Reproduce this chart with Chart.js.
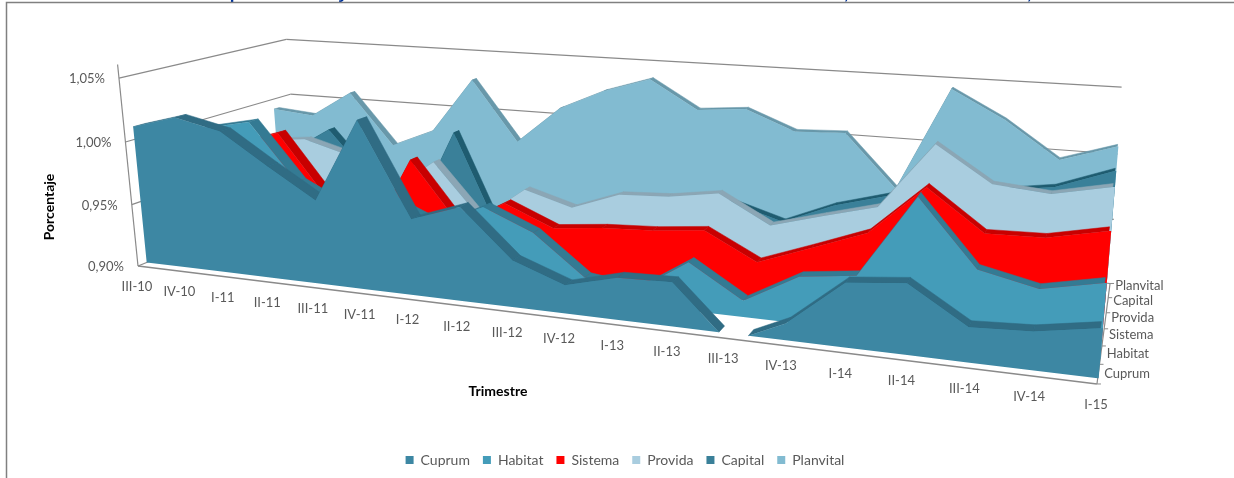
<!DOCTYPE html>
<html>
<head>
<meta charset="utf-8">
<style>
  html, body { margin: 0; padding: 0; background: #fff; }
  canvas { display: block; }
</style>
<script src="https://cdn.jsdelivr.net/npm/chart.js@4/dist/chart.umd.js"></script>
</head>
<body>
<canvas id="chart" width="1234" height="478"></canvas>
<script>
// Values are read off the picture; points hidden behind a nearer series are estimates.
const categories = ["III-10", "IV-10", "I-11", "II-11", "III-11", "IV-11", "I-12", "II-12", "III-12", "IV-12",
  "I-13", "II-13", "III-13", "IV-13", "I-14", "II-14", "III-14", "IV-14", "I-15"];
const seriesNames = ["Cuprum", "Habitat", "Sistema", "Provida", "Capital", "Planvital"];
const yTicks = [0.90, 0.95, 1.00, 1.05];

const cuprum = [1.010, 1.020, 1.012, 0.988, 0.965, 1.029, 0.958, 0.971, 0.935, 0.921, 0.931, 0.932, 0.8935, 0.912, 0.945, 0.949, 0.924, 0.926, 0.933];
const habitat = [0.990, 1.005, 1.0125, 0.9675, 0.949, 0.960, 0.944, 0.962, 0.946, 0.916, 0.911, 0.936, 0.912, 0.934, 0.939, 0.998, 0.952, 0.943, 0.9516];
const sistema = [0.980, 0.985, 0.9965, 0.9485, 0.919, 0.9836, 0.9355, 0.956, 0.940, 0.944, 0.946, 0.950, 0.930, 0.9446, 0.9597, 0.996, 0.967, 0.968, 0.9765];
const provida = [0.980, 0.980, 0.984, 0.974, 0.9475, 0.974, 0.931, 0.958, 0.947, 0.961, 0.963, 0.969, 0.948, 0.959, 0.9695, 1.0187, 0.993, 0.9895, 0.998];
const capital = [0.960, 0.963, 0.985, 0.944, 0.919, 0.991, 0.905, 0.930, 0.930, 0.940, 0.945, 0.953, 0.9415, 0.958, 0.969, 0.992, 0.980, 0.986, 1.001];
const planvital = [0.991, 0.988, 1.0105, 0.967, 0.9825, 1.029, 0.979, 1.010, 1.027, 1.039, 1.0167, 1.020, 1.005, 1.0067, 0.966, 1.0457, 1.025, 0.998, 1.011];
const seriesValues = [cuprum, habitat, sistema, provida, capital, planvital];

const faceColors = ["#3d87a3", "#449cb9", "#ff0000", "#a9cddf", "#3a8099", "#82bbd1"];
const ribbonColors = ["#306c84", "#347a93", "#c80000", "#8ba6b5", "#1f5c70", "#6898aa"];

const FONT = "Lato, 'Open Sans', sans-serif";
const TEXT = "#595959";
const GRID = "#8a8a8a";
const AXIS_MIN = 0.90;
const AXIS_MAX = 1.05;

// Excel's 3-D view as a projective map: u along the quarters, d into the depth, v up the value axis.
function project(u, d, v) {
  const w = 1 - 0.214 * u + 0.17 * d - 0.03 * v;
  return {
    x: (138 + 724.2 * u + 199 * d + 12 * d * (1 - u) - 22.6 * v) / w,
    y: (266 + 35.8 * u - 30.8 * d - 190.3 * v) / w,
  };
}
const toU = (i) => i / (categories.length - 1);
const toV = (pct) => (pct - AXIS_MIN) / (AXIS_MAX - AXIS_MIN);
const frontDepth = (k) => (k + 0.28) / seriesNames.length;
// far ribbons read thinner in the reference
const backDepth = (k) => (k + 0.65 - 0.03 * k) / seriesNames.length;

// Cut a series into runs above the axis minimum; values below it are not drawn, as in Excel.
function runsAboveFloor(values) {
  const runs = [];
  let run = [];
  values.forEach((pct, i) => {
    const v = toV(pct);
    if (i > 0) {
      const prev = toV(values[i - 1]);
      if ((prev < 0) !== (v < 0)) {
        const cross = { u: toU(i - 1 + prev / (prev - v)), v: 0 };
        run.push(cross);
        if (v < 0) { runs.push(run); run = []; }
      }
    }
    if (v >= 0) run.push({ u: toU(i), v });
  });
  if (run.length) runs.push(run);
  return runs;
}

function tracePolygon(ctx, chart, pts) {
  const { x, y } = chart.scales;
  ctx.beginPath();
  pts.forEach((p, i) => {
    const px = x.getPixelForValue(p.x);
    const py = y.getPixelForValue(p.y);
    if (i === 0) ctx.moveTo(px, py); else ctx.lineTo(px, py);
  });
  ctx.closePath();
}

function strokeLine(ctx, chart, a, b, color, width) {
  const { x, y } = chart.scales;
  ctx.strokeStyle = color;
  ctx.lineWidth = width;
  ctx.beginPath();
  ctx.moveTo(x.getPixelForValue(a.x), y.getPixelForValue(a.y));
  ctx.lineTo(x.getPixelForValue(b.x), y.getPixelForValue(b.y));
  ctx.stroke();
}

// The series end on one clean right-hand edge: from Cuprum's foot to Planvital's last value.
function clipRightEdge(ctx, chart) {
  const last = seriesNames.length - 1;
  const a = project(1, frontDepth(0), 0);
  const b = project(1, frontDepth(last), toV(seriesValues[last][categories.length - 1]));
  const slope = (b.x - a.x) / (b.y - a.y);
  const edgeAt = (py) => a.x + (py - a.y) * slope + 1;
  tracePolygon(ctx, chart, [{ x: 0, y: 0 }, { x: edgeAt(0), y: 0 }, { x: edgeAt(440), y: 440 }, { x: 0, y: 440 }]);
  ctx.clip();
}

// Each dataset is drawn as a top ribbon plus a front face, back to front by dataset order.
const areaFaces = {
  id: "areaFaces",
  beforeDatasetDraw(chart, args) {
    const k = args.index;
    const ctx = chart.ctx;
    const df = frontDepth(k);
    const db = backDepth(k);
    ctx.save();
    clipRightEdge(ctx, chart);
    for (const run of runsAboveFloor(seriesValues[k])) {
      ctx.fillStyle = ribbonColors[k];
      ctx.strokeStyle = ribbonColors[k];
      ctx.lineWidth = 0.5;
      for (let i = 0; i < run.length - 1; i++) {
        const a = run[i];
        const b = run[i + 1];
        tracePolygon(ctx, chart, [project(a.u, df, a.v), project(a.u, db, a.v), project(b.u, db, b.v), project(b.u, df, b.v)]);
        ctx.fill();
        ctx.stroke();
      }
      const face = run.map((p) => project(p.u, df, p.v));
      // run the face past the clip edge, so farther series do not peek out beside it
      const end = run[run.length - 1];
      const topEnd = project(end.u, df, end.v);
      const footEnd = project(end.u, df, 0);
      if (end.u === 1) face.push({ x: topEnd.x + 6, y: topEnd.y }, { x: footEnd.x + 6, y: footEnd.y });
      for (const p of run.slice().reverse()) face.push(project(p.u, df, 0));
      ctx.fillStyle = faceColors[k];
      tracePolygon(ctx, chart, face);
      ctx.fill();
    }
    ctx.restore();
  },
};

// Walls, gridlines and the frame of the chart object go underneath the series.
const walls = {
  id: "walls",
  beforeDatasetsDraw(chart) {
    const ctx = chart.ctx;
    ctx.save();
    for (const tick of yTicks) {
      const v = toV(tick);
      strokeLine(ctx, chart, project(0, 0, v), project(0, 1, v), GRID, 1.2);
      strokeLine(ctx, chart, project(0, 1, v), project(1, 1, v), GRID, 1.2);
    }
    strokeLine(ctx, chart, project(0, 0, 0), project(0, 0, 1.07), GRID, 1.2);
    strokeLine(ctx, chart, project(0, 0, 0), project(1, 0, 0), GRID, 1.6);
    strokeLine(ctx, chart, project(1, 0, 0), project(1, 1, 0), GRID, 1.2);
    for (let k = 0; k <= seriesNames.length; k++) {
      const p = project(1, k / seriesNames.length, 0);
      strokeLine(ctx, chart, p, { x: p.x + 4, y: p.y }, GRID, 1);
    }
    ctx.restore();
  },
};

// Tick labels, axis titles, the frame and the title strip cut off by the top of the picture.
const labels = {
  id: "labels",
  afterDraw(chart) {
    const ctx = chart.ctx;
    const { x, y } = chart.scales;
    const at = (p) => ({ x: x.getPixelForValue(p.x), y: y.getPixelForValue(p.y) });
    ctx.save();
    ctx.fillStyle = "#003399";
    ctx.font = "bold 17px 'Liberation Sans', sans-serif";
    ctx.textBaseline = "alphabetic";
    ctx.textAlign = "center";
    ctx.fillText("p", 235, -1);
    ctx.fillText("y", 343, -1);
    ctx.fillText(",", 846, -1);
    ctx.fillText(",", 1029, -1);

    ctx.strokeStyle = "#808080";
    ctx.lineWidth = 1.5;
    ctx.beginPath();
    ctx.moveTo(1234, 2.5);
    ctx.lineTo(6.5, 2.5);
    ctx.lineTo(6.5, 478);
    ctx.stroke();

    ctx.fillStyle = TEXT;
    ctx.font = "13px " + FONT;
    ctx.textBaseline = "middle";
    ctx.textAlign = "center";
    categories.forEach((name, i) => {
      const p = at(project(toU(i), 0, 0));
      ctx.fillText(name, p.x - 1, p.y + 21);
    });
    ctx.textAlign = "right";
    for (const tick of yTicks) {
      const p = at(project(0, 0, toV(tick)));
      ctx.fillText(tick.toFixed(2).replace(".", ",") + "%", p.x - 14, p.y + 1);
    }
    ctx.textAlign = "left";
    seriesNames.forEach((name, k) => {
      const p = at(project(1, (k + 0.5) / seriesNames.length, 0));
      ctx.fillText(name, p.x + 6, p.y - k);
    });

    ctx.fillStyle = "#000";
    ctx.font = "bold 14px " + FONT;
    ctx.textAlign = "center";
    ctx.fillText("Trimestre", 498, 391);
    ctx.translate(49, 207);
    ctx.rotate(-Math.PI / 2);
    ctx.fillText("Porcentaje", 0, 0);
    ctx.restore();
  },
};

// Fixed legend band at the bottom, so the pixel-sized scales below stay predictable.
const legendBand = {
  id: "legendBand",
  beforeInit(chart) {
    const fit = chart.legend.fit;
    chart.legend.fit = function () {
      fit.call(this);
      this.height = 38;
    };
  },
  afterLayout(chart) {
    // the reference legend sits a little right of centre
    chart.legend.left += 8;
    chart.legend.right += 8;
  },
};

new Chart(document.getElementById("chart"), {
  type: "scatter",
  data: {
    datasets: seriesNames.map((name, k) => ({
      label: name,
      data: seriesValues[k].map((pct, i) => project(toU(i), frontDepth(k), toV(pct))),
      backgroundColor: faceColors[k],
      borderColor: faceColors[k],
      borderWidth: 0,
      pointRadius: 0,
      showLine: false,
    })),
  },
  options: {
    responsive: false,
    animation: false,
    devicePixelRatio: 1,
    layout: { padding: 0 },
    scales: {
      x: { type: "linear", min: 0, max: 1234, display: false },
      y: { type: "linear", min: 0, max: 440, reverse: true, display: false },
    },
    plugins: {
      tooltip: { enabled: false },
      legend: {
        position: "bottom",
        labels: {
          boxWidth: 8,
          boxHeight: 8,
          padding: 13,
          color: TEXT,
          font: { family: FONT, size: 14 },
        },
      },
    },
  },
  plugins: [walls, areaFaces, labels, legendBand],
});
</script>
</body>
</html>
